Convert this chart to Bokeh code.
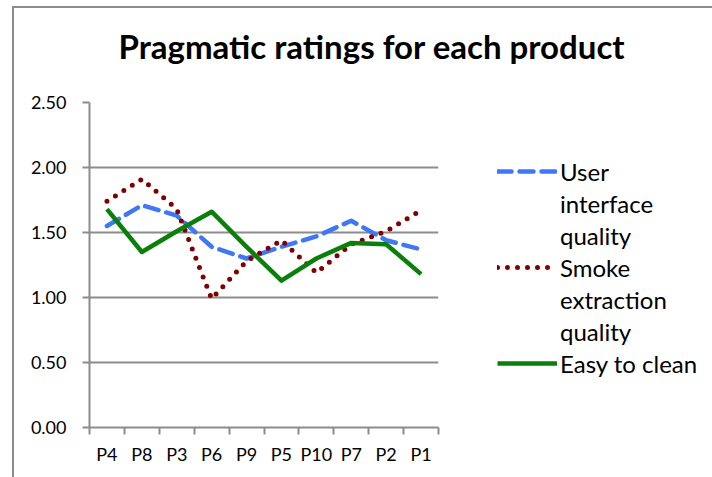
from bokeh.plotting import figure
from bokeh.models import (Range1d, FixedTicker, Legend, LegendItem, Title,
                          NumeralTickFormatter)
from bokeh.embed import file_html
from bokeh.resources import INLINE

products = ["P4", "P8", "P3", "P6", "P9", "P5", "P10", "P7", "P2", "P1"]
ui_quality = [1.55, 1.71, 1.63, 1.39, 1.30, 1.39, 1.47, 1.59, 1.44, 1.37]
smoke_quality = [1.74, 1.91, 1.68, 0.99, 1.28, 1.44, 1.19, 1.41, 1.51, 1.67]
easy_clean = [1.68, 1.35, 1.51, 1.66, 1.39, 1.13, 1.30, 1.42, 1.41, 1.18]
title_text = "Pragmatic ratings for each product"
legend_lines = [["User", "interface", "quality"],
                ["Smoke", "extraction", "quality"],
                ["Easy to clean"]]
y_ticks = [0, 0.5, 1.0, 1.5, 2.0, 2.5]

FONT = "Lato"
GRAY = "#8c8c8c"

xs = [i + 0.5 for i in range(len(products))]

p = figure(frame_width=349, frame_height=325, output_backend="svg",
           toolbar_location=None, x_range=Range1d(0, len(products)),
           y_range=Range1d(0, 2.5), min_border_left=75, min_border_top=94,
           min_border_bottom=50, min_border_right=0)
p.outline_line_color = None
p.background_fill_color = "white"
p.border_fill_color = "white"
p.styles = {"border-left": "2px solid #8c8c8c", "border-top": "2px solid #8c8c8c",
            "margin-left": "12px", "margin-top": "6px"}

r_ui = p.line(xs, ui_quality, line_color="#3f77f5", line_width=4.5,
              line_dash="14 8", line_cap="round", line_join="round")
r_sm = p.line(xs, smoke_quality, line_color="#7f0000", line_width=5,
              line_dash="0 10", line_cap="round", line_join="round")
r_ec = p.line(xs, easy_clean, line_color="#0a800a", line_width=4.5,
              line_join="round")
r_blank = p.line([], [], line_alpha=0)

# axes
p.xaxis.ticker = FixedTicker(ticks=xs, minor_ticks=list(range(len(products) + 1)))
p.xaxis.major_label_overrides = {x: lab for x, lab in zip(xs, products)}
p.xaxis.major_tick_out = 0
p.xaxis.major_tick_in = 0
p.xaxis.minor_tick_out = 7
p.xaxis.minor_tick_in = 0
p.xaxis.minor_tick_line_color = GRAY
p.xaxis.minor_tick_line_width = 2
p.xaxis.major_label_standoff = 8

p.yaxis.ticker = FixedTicker(ticks=y_ticks)
p.yaxis.formatter = NumeralTickFormatter(format="0.00")
p.yaxis.major_tick_out = 7
p.yaxis.major_tick_in = 0
p.yaxis.minor_tick_out = 0
p.yaxis.minor_tick_in = 0
p.yaxis.major_label_standoff = 16

for ax in (p.xaxis, p.yaxis):
    ax.axis_line_color = GRAY
    ax.axis_line_width = 2
    ax.major_tick_line_color = GRAY
    ax.major_tick_line_width = 2
    ax.major_label_text_font = FONT
    ax.major_label_text_font_size = "18px"
    ax.major_label_text_color = "black"

p.xgrid.grid_line_color = None
p.ygrid.grid_line_color = GRAY
p.ygrid.grid_line_width = 2
p.ygrid.ticker = FixedTicker(ticks=y_ticks)

items = []
for lines, rend in zip(legend_lines, [r_ui, r_sm, r_ec]):
    items.append(LegendItem(label=lines[0], renderers=[rend]))
    for extra in lines[1:]:
        items.append(LegendItem(label=extra, renderers=[r_blank]))

legend = Legend(items=items, location=(59, 48), margin=0, padding=0, spacing=0,
                glyph_width=60, glyph_height=32, label_standoff=3, label_height=32,
                label_text_font=FONT, label_text_font_size="24px",
                label_text_color="black",
                border_line_color=None, background_fill_alpha=0)
p.add_layout(legend, "right")

# spacer between frame and title (closest to frame), then the title above it
p.add_layout(Title(text=" ", text_font_size="1px", standoff=24), "above")
p.add_layout(Title(text=title_text, text_font=FONT, text_font_style="bold",
                   text_font_size="33px", text_color="black",
                   align="left", offset=29, standoff=20),
             "above")

open("out.html", "w").write(file_html(p, INLINE))
